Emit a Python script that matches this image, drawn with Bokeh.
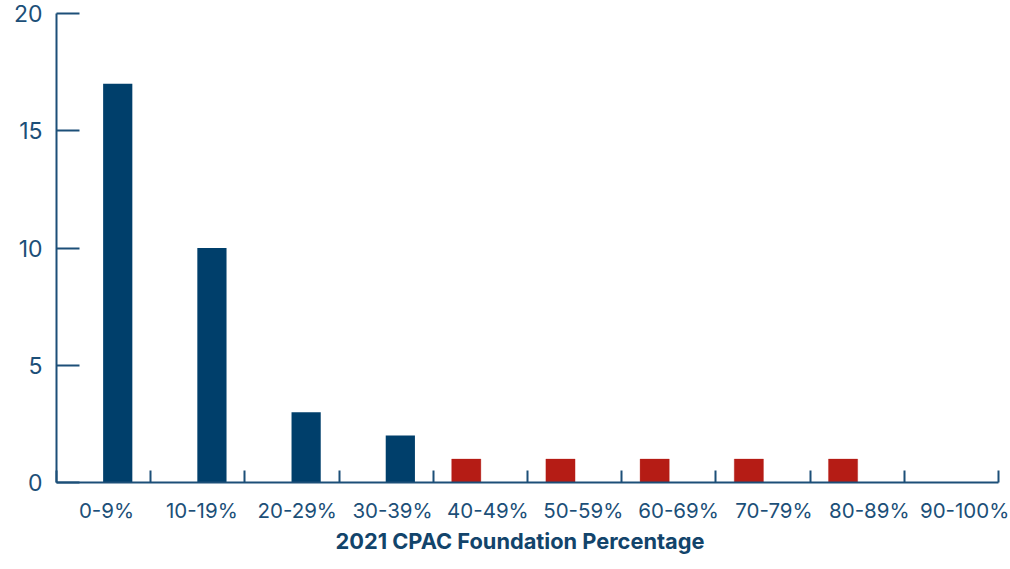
from bokeh.plotting import figure
from bokeh.models import FixedTicker, Range1d, ColumnDataSource, LinearAxis, Title
from bokeh.embed import file_html
from bokeh.resources import INLINE

categories = ["0-9%", "10-19%", "20-29%", "30-39%", "40-49%", "50-59%", "60-69%", "70-79%", "80-89%", "90-100%"]
red_counts = [0, 0, 0, 0, 1, 1, 1, 1, 1, 0]
blue_counts = [17, 10, 3, 2, 0, 0, 0, 0, 0, 0]
y_ticks = [0, 5, 10, 15, 20]
x_title = "2021 CPAC Foundation Percentage"

FONT = "Inter"
INK = "#1c4f78"
BLUE = "#003f6b"
RED = "#b51c15"
centers = [i + 0.5 for i in range(len(categories))]
edges = list(range(len(categories) + 1))

p = figure(width=1010, height=569, output_backend="svg", toolbar_location=None,
           x_range=Range1d(0, 10), y_range=Range1d(0, 20),
           min_border_left=56, min_border_right=12, min_border_top=13, min_border_bottom=87,
           background_fill_color="white", border_fill_color="white")
p.outline_line_color = None
p.grid.visible = False

src = ColumnDataSource(dict(c=centers, red=red_counts, blue=blue_counts,
                            xr=[c - 0.15 for c in centers], xb=[c + 0.15 for c in centers]))
p.vbar(x="xr", top="red", width=0.31, bottom=0, fill_color=RED, line_color=RED, line_alpha=0.3, line_width=1, source=src)
p.vbar(x="xb", top="blue", width=0.31, bottom=0, fill_color=BLUE, line_color=None, source=src)

# Axis line and boundary ticks
ax = p.xaxis[0]
ax.ticker = FixedTicker(ticks=[], minor_ticks=edges)
ax.minor_tick_in = 12
ax.minor_tick_out = 0
ax.minor_tick_line_color = INK
ax.minor_tick_line_width = 2
ax.axis_line_color = INK
ax.axis_line_width = 2

# Category labels sit on a slightly wider spacing than the bars
p.extra_x_ranges["labels"] = Range1d(-0.0247, 9.855)
lab = LinearAxis(x_range_name="labels", ticker=FixedTicker(ticks=centers, minor_ticks=[]))
lab.major_label_overrides = {c: l for c, l in zip(centers, categories)}
lab.axis_line_color = None
lab.major_tick_line_color = None
lab.minor_tick_line_color = None
lab.major_tick_in = 0
lab.major_tick_out = 0
lab.major_label_standoff = 15
lab.major_label_text_font = FONT
lab.major_label_text_font_size = "20.5px"
lab.major_label_text_color = INK
p.add_layout(lab, "below")

# Empty axis used only as vertical space above the axis title
spacer = LinearAxis(ticker=FixedTicker(ticks=[], minor_ticks=[]), axis_line_color=None,
                    major_tick_line_color="white", minor_tick_line_color=None,
                    major_tick_in=0, major_tick_out=16, minor_tick_in=0, minor_tick_out=0)
p.add_layout(spacer, "below")

ay = p.yaxis[0]
ay.ticker = FixedTicker(ticks=y_ticks, minor_ticks=[])
ay.major_tick_in = 23
ay.major_tick_out = 0
ay.major_tick_line_color = INK
ay.major_tick_line_width = 2
ay.axis_line_color = INK
ay.axis_line_width = 2
ay.major_label_standoff = 14
ay.major_label_text_font = FONT
ay.major_label_text_font_size = "23px"
ay.major_label_text_color = INK

p.add_layout(Title(text=x_title, align="left", offset=279, standoff=0, text_font=FONT,
                   text_font_size="21.8px", text_font_style="bold", text_color="#12446b"), "below")

open("out.html", "w").write(file_html(p, INLINE))
